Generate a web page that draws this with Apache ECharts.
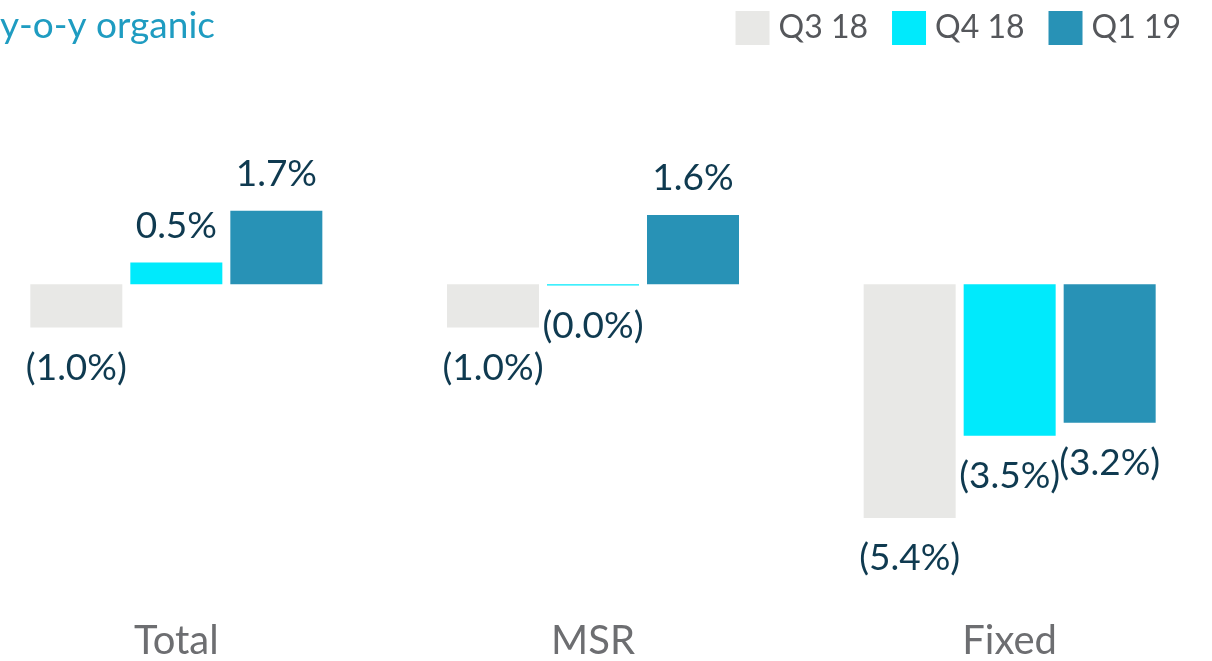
<!DOCTYPE html>
<html>
<head>
<meta charset="utf-8">
<script src="https://cdn.jsdelivr.net/npm/echarts@6/dist/echarts.min.js"></script>
<style>
    html, body { margin: 0; padding: 0; background: #fff; }
    #chart { width: 1212px; height: 661px; }
</style>
</head>
<body>
<div id="chart"></div>
<script>
const categories = ["Total", "MSR", "Fixed"];
const seriesNames = ["Q3 18", "Q4 18", "Q1 19"];
const q318 = [-1.0, -1.0, -5.4];
const q418 = [0.5, -0.03, -3.5];
const q119 = [1.7, 1.6, -3.2];
const colors = ["#e8e8e6", "#00eafc", "#2892b6"];

const fmtLabel = (v) => {
    const s = Math.abs(v).toFixed(1) + "%";
    return v < 0 ? "(" + s + ")" : s;
};

const buildData = (values) => {
    return values.map((v) => ({
        value: v,
        label: {
            position: v < 0 ? "bottom" : "top",
            distance: v < 0 ? 22 : 18
        }
    }));
};

const getOption = () => {
    const allValues = [q318, q418, q119];
    return {
        animation: false,
        textStyle: { fontFamily: "Lato" },
        title: {
            text: "y-o-y organic",
            left: -5,
            top: 3,
            textStyle: {
                color: "#1f9cc1",
                fontSize: 37,
                fontWeight: "normal",
                fontFamily: "Lato"
            }
        },
        legend: {
            data: seriesNames,
            right: 26,
            top: 6,
            itemWidth: 34,
            itemHeight: 34,
            itemGap: 24,
            icon: "rect",
            textStyle: {
                color: "#55575b",
                fontSize: 32,
                fontFamily: "Lato",
                padding: [0, 0, 0, 4]
            }
        },
        grid: {
            left: -32,
            right: -6,
            top: 176,
            bottom: 117,
            outerBoundsMode: "none"
        },
        xAxis: {
            type: "category",
            data: categories,
            axisLine: { show: false, onZero: false },
            axisTick: { show: false },
            axisLabel: {
                color: "#6d6e71",
                fontSize: 40,
                margin: 77,
                fontFamily: "Lato"
            }
        },
        yAxis: {
            type: "value",
            min: -6,
            max: 2.5,
            show: false,
            splitLine: { show: false }
        },
        series: seriesNames.map((name, i) => ({
            name: name,
            type: "bar",
            barWidth: 92,
            barGap: "8.7%",
            itemStyle: { color: colors[i] },
            label: {
                show: true,
                color: "#0f3a50",
                fontSize: 37,
                fontFamily: "Lato",
                formatter: (p) => fmtLabel(p.value)
            },
            data: buildData(allValues[i])
        }))
    };
};

const initChart = () => {
    const chart = echarts.init(document.getElementById("chart"));
    chart.setOption(getOption());
};

window.addEventListener("load", () => {
    initChart();
});
</script>
</body>
</html>
